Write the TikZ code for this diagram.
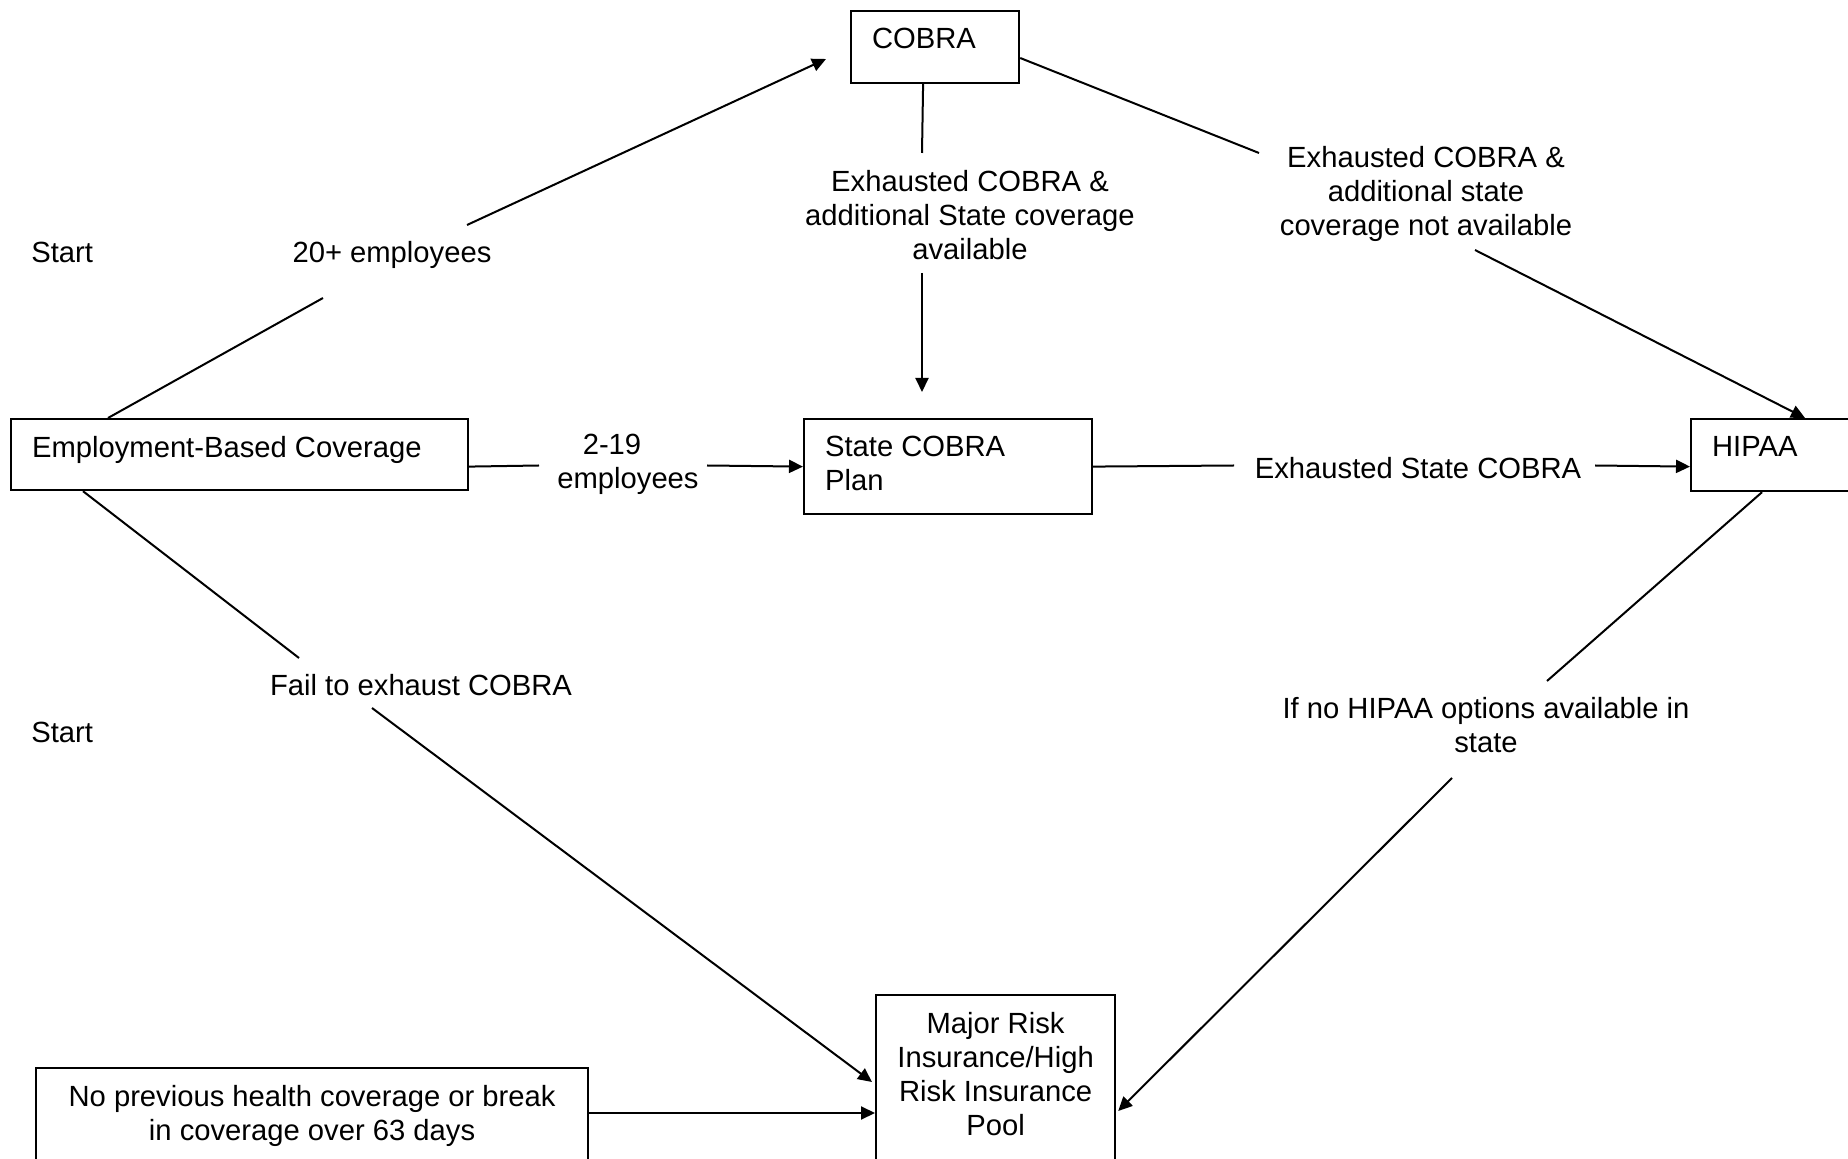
\documentclass[tikz,border=0pt]{standalone}
\usepackage{fontspec}
\setmainfont{Liberation Sans}
\usetikzlibrary{arrows.meta}
\newcommand\bxl[3]{\parbox[c][#2][t]{#1}{\raggedright #3}}
\newcommand\bxc[3]{\parbox[c][#2][t]{#1}{\centering #3}}
\begin{document}
\begin{tikzpicture}[x=0.5pt,y=-0.5pt,
  every node/.style={font=\fontsize{14.6pt}{17pt}\selectfont},
  box/.style={draw, line width=1.1pt, inner xsep=10.5pt, inner ysep=8.75pt, anchor=north west},
  conn/.style={line width=1pt},
  arr/.style={conn, -{Triangle[length=7pt,width=6.5pt]}},
  lbl/.style={inner sep=0pt, align=center}]
\clip (0,0) rectangle (1848,1159);
\fill[white] (0,0) rectangle (1848,1159);

% boxes
\node[box] (cobra) at (850,10) {\bxl{63pt}{18.5pt}{COBRA}};
\node[box] (emp) at (10,418) {\bxl{207.5pt}{18pt}{Employment-Based Coverage}};
\node[box] (state) at (803,418) {\bxl{123pt}{30pt}{State COBRA\\Plan}};
\node[box] (hipaa) at (1690,418) {\bxl{64pt}{18.5pt}{HIPAA}};
\node[box, inner xsep=6pt] (major) at (875,994) {\bxc{107.5pt}{75.5pt}{Major Risk\\Insurance/High\\Risk Insurance\\Pool}};
\node[box] (noprev) at (35,1067) {\bxc{255pt}{37.5pt}{No previous health coverage or break\\in coverage over 63 days}};

% labels
\node[anchor=base west, inner sep=0pt] (start1) at (31,262.5) {Start};
\node[anchor=base west, inner sep=0pt] (start2) at (31,742.5) {Start};
\node[lbl, anchor=base] (l20) at (392,262.5) {20+ employees};
\node[lbl] (lexs) at (970,215.4) {Exhausted COBRA \&\\additional State coverage\\available};
\node[lbl] (lexn) at (1426,193.9) {Exhausted COBRA \&\\additional state\\coverage not available};
\node[lbl] (l219) at (628,463.9) {2-19\hspace*{16pt}\\employees};
\node[lbl, anchor=base] (lesc) at (1418,478.5) {Exhausted State COBRA};
\node[lbl, anchor=base] (lfail) at (421,695.5) {Fail to exhaust COBRA};
\node[lbl] (lhip) at (1486,724.9) {If no HIPAA options available in\\state};

% gap coordinates
\coordinate (a1) at (323,298); \coordinate (b1) at (467,225); \coordinate (t1) at (826,59);
\coordinate (a2) at (922,153); \coordinate (b2) at (922,273); \coordinate (t2) at (922,392);
\coordinate (a3) at (1259,153); \coordinate (b3) at (1475,250);
\coordinate (a4) at (539,465.5); \coordinate (b4) at (707,465.5);
\coordinate (a5) at (1234,465.5); \coordinate (b5) at (1595,465.5);
\coordinate (a6) at (299,658); \coordinate (b6) at (372,708);
\coordinate (a7) at (1547,681); \coordinate (b7) at (1452,778);
\coordinate (s8) at ([yshift=-23pt]noprev.north east);

% connectors
\draw[conn] ([xshift=49pt]emp.north west) -- (a1);
\draw[arr] (b1) -- (t1);
\draw[conn] ([xshift=-6pt]cobra.south) -- (a2);
\draw[arr] (b2) -- (t2);
\draw[conn] ([yshift=-24pt]cobra.north east) -- (a3);
\draw[arr] (b3) -- ([xshift=57.5pt]hipaa.north west);
\draw[conn] (emp.east |- state.west) -- (a4);
\draw[arr] (b4) -- (state.west);
\draw[conn] (state.east) -- (a5);
\draw[arr] (b5) -- (hipaa.west |- state.east);
\draw[conn] ([xshift=36.5pt]emp.south west) -- (a6);
\draw[arr] (b6) -- ([shift={(-1.5pt,-44pt)}]major.north west);
\draw[conn] ([xshift=36pt]hipaa.south west) -- (a7);
\draw[arr] (b7) -- ([shift={(1pt,-58.5pt)}]major.north east);
\draw[arr] (s8) -- (major.west |- s8);
\end{tikzpicture}
\end{document}
